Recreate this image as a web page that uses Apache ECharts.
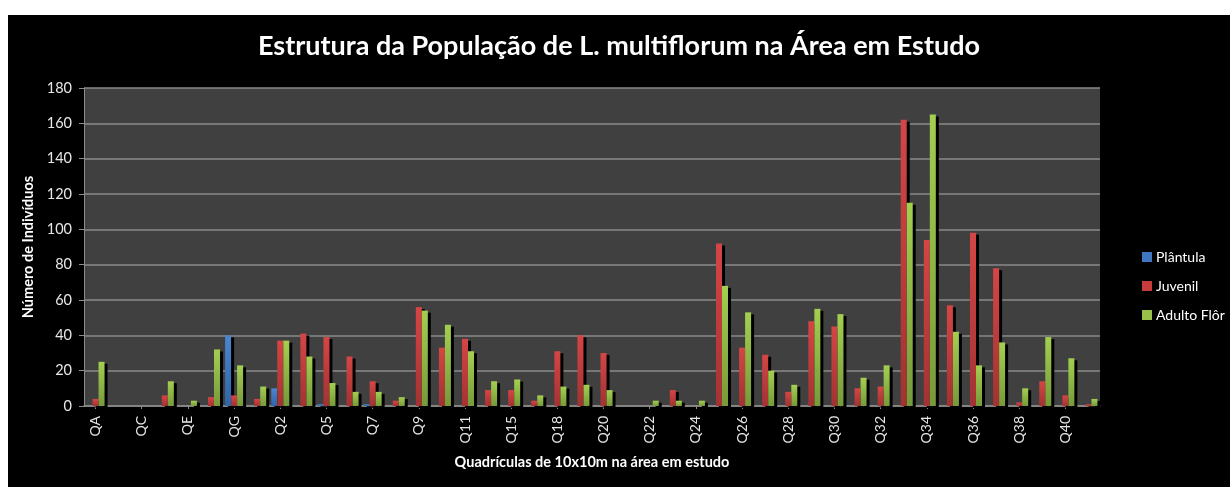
<!DOCTYPE html>
<html>
<head>
<meta charset="utf-8">
<script src="https://cdn.jsdelivr.net/npm/echarts@6/dist/echarts.min.js"></script>
<style>
  html, body { margin: 0; padding: 0; background: #ffffff; }
  #chart { position: absolute; left: 8px; top: 15px; width: 1222px; height: 472px; background: #000000; }
</style>
</head>
<body>
<div id="chart"></div>
<script>
const categories = ['QA','QB','QC','QD','QE','QF','QG','QH','Q2','Q3','Q5','Q6','Q7','Q8','Q9','Q10','Q11','Q12','Q15','Q16','Q18','Q19','Q20','Q21','Q22','Q23','Q24','Q25','Q26','Q27','Q28','Q29','Q30','Q31','Q32','Q33','Q34','Q35','Q36','Q37','Q38','Q39','Q40','Q41'];
const plantula = [0,0,0,0,0,0,40,0,10,0,1,0,1,0,0,0,0,0,0,0,0,0,0,0,0,0,0,0,0,0,0,0,0,0,0,0,0,0,0,0,0,0,0,0];
const juvenil = [4,0,0,6,0,5,6,4,37,41,39,28,14,3,56,33,38,9,9,3,31,40,30,0,0,9,0,92,33,29,8,48,45,10,11,162,94,57,98,78,2,14,6,1];
const adulto = [25,0,0,14,3,32,23,11,37,28,13,8,8,5,54,46,31,14,15,6,11,12,9,0,3,3,3,68,53,20,12,55,52,16,23,115,165,42,23,36,10,39,27,4];
const seriesNames = ['Plântula','Juvenil','Adulto Flôr'];
const yTicks = { min: 0, max: 180, interval: 20 };

const FONT = 'Lato, "Open Sans", sans-serif';
function grad(top, bottom) {
  return new echarts.graphic.LinearGradient(0, 0, 0, 1, [
    { offset: 0, color: top }, { offset: 1, color: bottom }
  ]);
}
const styles = [
  { color: grad('#4a86cf', '#2f64a8'), legend: '#3f78c0' },
  { color: grad('#d64545', '#a33232'), legend: '#c83c3c' },
  { color: grad('#a3cf50', '#779a3a'), legend: '#98c14a' }
];
const dataSets = [plantula, juvenil, adulto];

const chart = echarts.init(document.getElementById('chart'), null, { renderer: 'canvas' });
chart.setOption({
  backgroundColor: '#000000',
  animation: false,
  title: {
    text: 'Estrutura da População de L. multiflorum na Área em Estudo',
    left: 'center',
    top: 13,
    textStyle: { color: '#ffffff', fontFamily: FONT, fontWeight: 'bold', fontSize: 27 }
  },
  legend: {
    orient: 'vertical',
    left: 1129,
    top: 230,
    itemWidth: 10,
    itemHeight: 10,
    itemGap: 15,
    icon: 'rect',
    data: seriesNames.map((n, i) => ({ name: n, itemStyle: { color: styles[i].legend } })),
    textStyle: { color: '#ffffff', fontFamily: FONT, fontSize: 14, padding: [0, 0, 0, -1] }
  },
  grid: { left: 76, top: 73, width: 1016, height: 318, backgroundColor: '#404040', show: true, borderWidth: 0 },
  xAxis: {
    type: 'category',
    data: categories,
    boundaryGap: true,
    name: 'Quadrículas de 10x10m na área em estudo',
    nameLocation: 'middle',
    nameGap: 49,
    nameTextStyle: { color: '#ffffff', fontFamily: FONT, fontWeight: 'bold', fontSize: 14.5 },
    axisLine: { lineStyle: { color: '#8c8c8c', width: 1.5 } },
    axisTick: { show: true, alignWithLabel: true, interval: 1, length: 3, lineStyle: { color: '#8c8c8c' } },
    axisLabel: { interval: 1, rotate: 90, margin: 10, color: '#e6e6e6', fontFamily: FONT, fontSize: 14 },
    splitLine: { show: false }
  },
  yAxis: {
    type: 'value',
    min: yTicks.min,
    max: yTicks.max,
    interval: yTicks.interval,
    name: 'Número de Indivíduos',
    nameLocation: 'middle',
    nameGap: 46,
    nameTextStyle: { color: '#ffffff', fontFamily: FONT, fontWeight: 'bold', fontSize: 14.5 },
    axisLine: { show: true, lineStyle: { color: '#8c8c8c', width: 1 } },
    axisTick: { show: true, length: 5, lineStyle: { color: '#8c8c8c' } },
    axisLabel: { color: '#e6e6e6', fontFamily: FONT, fontSize: 14.5, margin: 12 },
    splitLine: { show: true, lineStyle: { color: '#8a8a8a', width: 1.5 } }
  },
  series: dataSets.map((d, i) => ({
    name: seriesNames[i],
    type: 'bar',
    data: d,
    barGap: '0%',
    barCategoryGap: '22%',
    itemStyle: {
      color: styles[i].color,
      shadowColor: '#000000',
      shadowBlur: 0,
      shadowOffsetX: 3,
      shadowOffsetY: 2
    }
  }))
});
</script>
</body>
</html>
